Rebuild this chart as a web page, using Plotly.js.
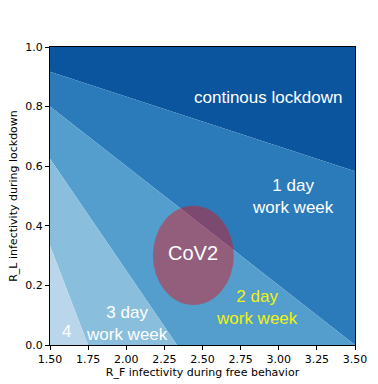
<!DOCTYPE html>
<html>
<head>
<meta charset="utf-8">
<script src="https://cdn.plot.ly/plotly-3.0.1.min.js"></script>
<style>html,body{margin:0;padding:0;background:#fff;}#chart{width:378px;height:384px;}</style>
</head>
<body>
<div id="chart"></div>
<script>
// Region polygons (R_F, R_L vertices)
const lockdownX = [1.5, 3.5, 3.5, 1.5];
const lockdownY = [0.917, 0.583, 1.0, 1.0];
const day1X = [1.5, 3.5, 3.5, 1.5];
const day1Y = [0.8, 0.0, 0.583, 0.917];
const day2X = [1.5, 2.333, 3.5, 1.5];
const day2Y = [0.625, 0.0, 0.0, 0.8];
const day3X = [1.5, 1.75, 2.333, 1.5];
const day3Y = [0.333, 0.0, 0.0, 0.625];
const day4X = [1.5, 1.5, 1.75];
const day4Y = [0.0, 0.333, 0.0];

// CoV2 ellipse extent
const covX = [2.175, 2.705];
const covY = [0.134, 0.467];

// Labels
const labelText = ["continous lockdown", "1 day<br>work week", "2 day<br>work week", "3 day<br>work week", "4", "CoV2"];
const labelX = [2.93, 3.095, 2.855, 2.007, 1.609, 2.436];
const labelY = [0.831, 0.50, 0.127, 0.072, 0.045, 0.308];
const labelColor = ["white", "white", "#f2f20a", "white", "white", "white"];
const labelSize = [17, 17, 17, 17, 17, 20];

const xTicks = [1.5, 1.75, 2.0, 2.25, 2.5, 2.75, 3.0, 3.25, 3.5];
const yTicks = [0.0, 0.2, 0.4, 0.6, 0.8, 1.0];

const regions = [
  [lockdownX, lockdownY, "#0b559f"],
  [day1X, day1Y, "#2b7bba"],
  [day2X, day2Y, "#539ecd"],
  [day3X, day3Y, "#89bedc"],
  [day4X, day4Y, "#bad6eb"]
];

const traces = regions.map(r => ({
  type: "scatter", mode: "lines", x: r[0], y: r[1], fill: "toself",
  fillcolor: r[2], line: {width: 0, color: r[2]}, hoverinfo: "skip", showlegend: false
}));

const annotations = labelText.map((t, i) => ({
  text: t, x: labelX[i], y: labelY[i], xref: "x", yref: "y", showarrow: false,
  font: {family: "Liberation Sans, Arial, sans-serif", size: labelSize[i], color: labelColor[i]}
}));

const tickFont = {family: "DejaVu Sans, sans-serif", size: 11, color: "black"};

const layout = {
  width: 378, height: 384,
  margin: {l: 50, r: 23, t: 47, b: 39},
  paper_bgcolor: "white", plot_bgcolor: "white",
  showlegend: false,
  xaxis: {
    range: [1.5, 3.5], tickvals: xTicks, tickformat: ".2f", showgrid: false, zeroline: false,
    showline: true, mirror: true, linecolor: "black", linewidth: 1,
    ticks: "outside", ticklen: 4, tickcolor: "black", tickfont: tickFont,
    title: {text: "R_F infectivity during free behavior", font: tickFont, standoff: 3}
  },
  yaxis: {
    range: [0, 1], tickvals: yTicks, tickformat: ".1f", showgrid: false, zeroline: false,
    showline: true, mirror: true, linecolor: "black", linewidth: 1,
    ticks: "outside", ticklen: 4, tickcolor: "black", tickfont: tickFont,
    title: {text: "R_L infectivity during lockdown", font: tickFont, standoff: 5}
  },
  shapes: [{
    type: "circle", xref: "x", yref: "y", x0: covX[0], x1: covX[1], y0: covY[0], y1: covY[1],
    fillcolor: "rgba(225,15,25,0.45)", line: {width: 0}, layer: "above"
  }],
  annotations: annotations
};

Plotly.newPlot("chart", traces, layout, {displayModeBar: false, staticPlot: true});
</script>
</body>
</html>
